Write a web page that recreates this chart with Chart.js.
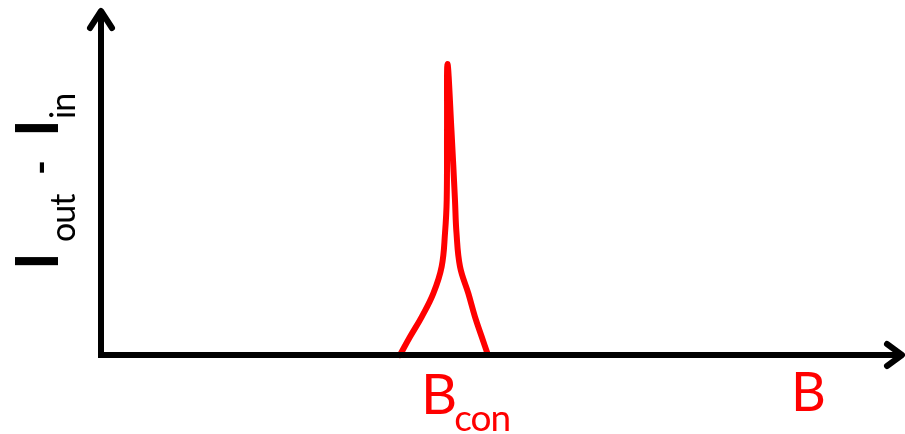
<!DOCTYPE html>
<html lang="en">
<head>
    <meta charset="UTF-8">
    <title>Resonance peak</title>
    <script src="https://cdn.jsdelivr.net/npm/chart.js"></script>
</head>
<style>
body{
    margin: 0;
    background: #fff;
}
#wrap{
    position: relative;
    width: 905px;
    height: 434px;
    font-family: Lato, "Open Sans", sans-serif;
}
.lbl{
    position: absolute;
    white-space: nowrap;
    line-height: 1;
    font-size: 56px;
}
.lbl sub{
    line-height: 0;
}
/* rotated axis title, pieces placed along the text direction */
#ylabel{
    position: absolute;
    left: 0;
    top: 0;
    width: 200px;
    height: 80px;
    color: #000;
    line-height: 1;
    white-space: nowrap;
    transform-origin: 0 0;
    transform: translate(0px, 270px) rotate(-90deg);
}
#ylabel span{
    position: absolute;
}
#ylabel .big{
    font-size: 60px;
    font-weight: 700;
    top: 5px;
}
#ylabel .small{
    font-size: 34px;
    letter-spacing: -1px;
    top: 45px;
}
#ylabel .dash{
    font-size: 40px;
    font-weight: 700;
    top: 19px;
}
#bcon{
    left: 421px;
    top: 365px;
    color: #ff0000;
}
#bcon sub{
    font-size: 37px;
    margin-left: -3px;
    letter-spacing: -1px;
    vertical-align: -17px;
}
#blabel{
    left: 791px;
    top: 364px;
    font-size: 54px;
    color: #ff0000;
}
</style>
<body>
    <div id="wrap">
        <canvas id="peakChart"></canvas>
        <div id="ylabel"><span class="big" style="left:0px">I</span><span class="small" style="left:28px">out</span><span class="dash" style="left:95px">-</span><span class="big" style="left:133px">I</span><span class="small" style="left:151px">in</span></div>
        <div class="lbl" id="bcon">B<sub>con</sub></div>
        <div class="lbl" id="blabel">B</div>
    </div>
<script>
    // field (arbitrary units, axis 0..100) and I_out - I_in (axis 0..1)
    var fieldValues = [37.33, 38.58, 40.04, 41.49, 42.53, 42.95, 43.16, 43.2, 43.26,
                       43.75, 44.19, 44.38, 44.82, 45.86, 46.69, 47.53, 48.31];
    var signalValues = [0.0, 0.053, 0.111, 0.179, 0.257, 0.355, 0.451, 0.654, 0.846,
                        0.654, 0.451, 0.355, 0.257, 0.179, 0.111, 0.053, 0.0];

    var points = fieldValues.map(function (x, i) {
        return { x: x, y: signalValues[i] };
    });

    // arrow heads on the ends of both axes
    var axisArrows = {
        id: 'axisArrows',
        afterDraw: function (chart) {
            var ctx = chart.ctx;
            var a = chart.chartArea;
            ctx.save();
            ctx.strokeStyle = '#000';
            ctx.lineWidth = 6;
            ctx.lineCap = 'round';
            ctx.lineJoin = 'round';
            ctx.beginPath();
            ctx.moveTo(a.left - 11, a.top + 17);
            ctx.lineTo(a.left, a.top);
            ctx.lineTo(a.left + 11, a.top + 17);
            ctx.moveTo(a.right - 15, a.bottom - 11);
            ctx.lineTo(a.right, a.bottom);
            ctx.lineTo(a.right - 15, a.bottom + 11);
            ctx.stroke();
            ctx.lineCap = 'butt';
            ctx.beginPath();
            ctx.moveTo(a.left, a.bottom + 3);
            ctx.lineTo(a.left, a.top);
            ctx.moveTo(a.left - 3, a.bottom);
            ctx.lineTo(a.right, a.bottom);
            ctx.stroke();
            ctx.restore();
        }
    };

    var ctx = document.getElementById('peakChart').getContext('2d');
    window.myChart = new Chart(ctx, {
        type: 'scatter',
        data: {
            datasets: [{
                data: points,
                showLine: true,
                borderColor: '#ff0000',
                borderWidth: 6,
                borderCapStyle: 'round',
                borderJoinStyle: 'round',
                pointRadius: 0,
                tension: 0.4,
                clip: false
            }]
        },
        options: {
            responsive: true,
            maintainAspectRatio: false,
            animation: false,
            layout: {
                padding: { left: 101, top: 11, right: 3, bottom: 79 }
            },
            plugins: {
                legend: { display: false },
                tooltip: { enabled: false }
            },
            scales: {
                x: {
                    type: 'linear',
                    min: 0,
                    max: 100,
                    ticks: { display: false },
                    grid: { display: false },
                    border: { display: false },
                    afterFit: function (scale) { scale.height = 0; }
                },
                y: {
                    min: 0,
                    max: 1,
                    ticks: { display: false },
                    grid: { display: false },
                    border: { display: false },
                    afterFit: function (scale) { scale.width = 0; }
                }
            }
        },
        plugins: [axisArrows]
    });
</script>
</body>
</html>
